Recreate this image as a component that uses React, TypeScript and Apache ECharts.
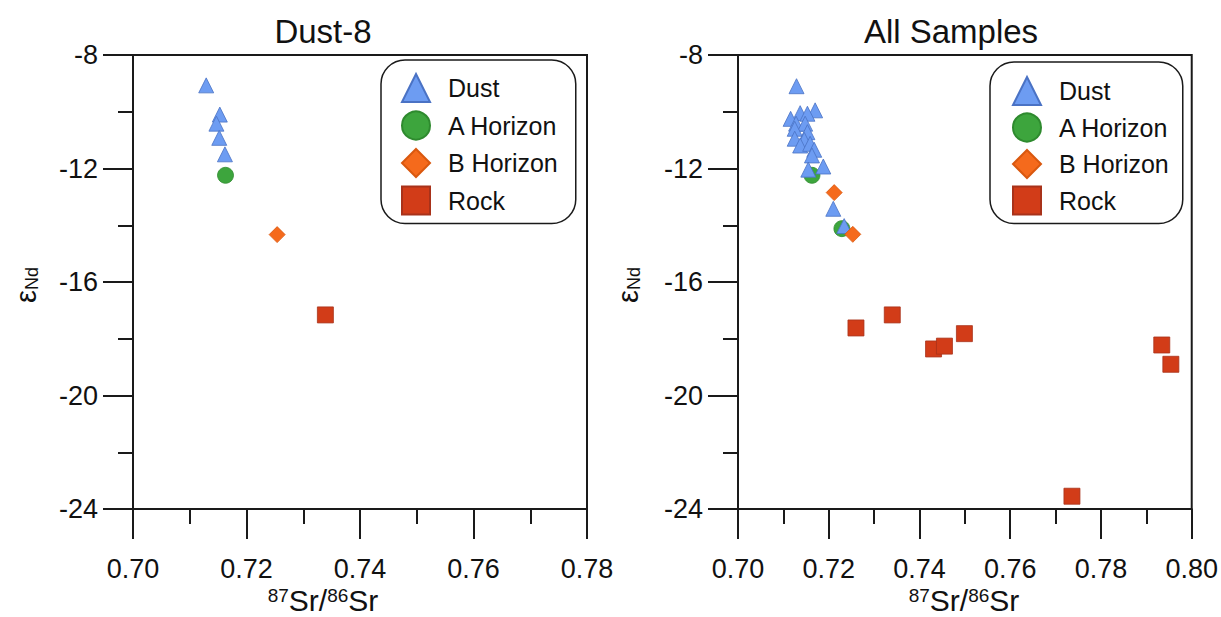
import React, { useEffect, useRef } from "react";
import * as echarts from "echarts";

// ---- Data ----
const seriesNames = ["Dust", "A Horizon", "B Horizon", "Rock"];

// Dust-8 panel
const dust8Dust: number[][] = [
  [0.7129, -9.07], [0.7153, -10.1], [0.7147, -10.42], [0.7152, -10.92], [0.7162, -11.5],
];
const dust8A: number[][] = [[0.7163, -12.24]];
const dust8B: number[][] = [[0.7254, -14.33]];
const dust8Rock: number[][] = [[0.7339, -17.16]];

// All Samples panel
const allDust: number[][] = [
  [0.7129, -9.1], [0.717, -9.95], [0.7137, -10.05], [0.7153, -10.07], [0.7116, -10.25],
  [0.7128, -10.42], [0.7148, -10.42], [0.7125, -10.6], [0.7153, -10.72], [0.7125, -10.95],
  [0.7146, -10.99], [0.7137, -11.19], [0.7159, -11.13], [0.7168, -11.34], [0.7163, -11.54],
  [0.7188, -11.93], [0.7155, -12.04], [0.721, -13.42], [0.7234, -14.03],
];
const allA: number[][] = [[0.7163, -12.24], [0.7229, -14.12]];
const allB: number[][] = [[0.7212, -12.85], [0.7253, -14.32]];
const allRock: number[][] = [
  [0.726, -17.62], [0.734, -17.16], [0.7431, -18.36], [0.7455, -18.26], [0.7499, -17.82],
  [0.7736, -23.55], [0.7934, -18.22], [0.7954, -18.9],
];

const titles = ["Dust-8", "All Samples"];
const xMin = 0.7;
const xMaxs = [0.78, 0.8];
const yMin = -24;
const yMax = -8;

const FONT = "'Liberation Sans', Arial, Helvetica, sans-serif";
const AXIS = "#1a1a1a";

const styles: Record<string, any> = {
  Dust: { symbol: "triangle", size: 15, color: "#6d9cf2", border: "#4a72c4" },
  "A Horizon": { symbol: "circle", size: 16, color: "#3da53d", border: "#2e8a2e" },
  "B Horizon": { symbol: "diamond", size: 16, color: "#f56a1c", border: "#d9580f" },
  Rock: { symbol: "rect", size: 16, color: "#d23c18", border: "#a8321a" },
};

function makeSeries(name: string, data: number[][], idx: number) {
  const s = styles[name];
  return {
    type: "scatter",
    name,
    xAxisIndex: idx,
    yAxisIndex: idx,
    data,
    symbol: s.symbol,
    symbolSize: s.size,
    itemStyle: { color: s.color, borderColor: s.border, borderWidth: 0.8, opacity: 1 },
    emphasis: { disabled: true },
  };
}

function makeX(idx: number) {
  return {
    type: "value",
    gridIndex: idx,
    min: xMin,
    max: xMaxs[idx],
    interval: 0.02,
    axisLine: { show: true, lineStyle: { color: AXIS, width: 2 } },
    axisTick: { show: true, inside: false, length: 30, lineStyle: { color: AXIS, width: 2 } },
    minorTick: { show: true, splitNumber: 2, length: 15, lineStyle: { color: AXIS, width: 2 } },
    splitLine: { show: false },
    axisLabel: {
      fontSize: 27,
      color: "#111",
      fontFamily: FONT,
      margin: 46,
      formatter: (v: number) => v.toFixed(2),
    },
  };
}

function makeY(idx: number) {
  return {
    type: "value",
    gridIndex: idx,
    min: yMin,
    max: yMax,
    interval: 4,
    axisLine: { show: true, lineStyle: { color: AXIS, width: 2 } },
    axisTick: { show: true, inside: false, length: 30, lineStyle: { color: AXIS, width: 2 } },
    minorTick: { show: true, splitNumber: 2, length: 15, lineStyle: { color: AXIS, width: 2 } },
    splitLine: { show: false },
    axisLabel: { fontSize: 27, color: "#111", fontFamily: FONT, margin: 35 },
  };
}

function makeLegend(left: number, top: number, pad: number[], gap: number) {
  return {
    left,
    top,
    orient: "vertical",
    padding: pad,
    itemGap: gap,
    itemWidth: 28,
    itemHeight: 28,
    borderColor: AXIS,
    borderWidth: 1.5,
    borderRadius: 24,
    backgroundColor: "#fff",
    selectedMode: false,
    textStyle: { fontSize: 25, lineHeight: 28, color: "#111", fontFamily: FONT, padding: [0, 0, 0, 13] },
    data: seriesNames.map((n) => ({ name: n, icon: styles[n].symbol })),
  };
}

export default function App() {
  const ref = useRef<HTMLDivElement>(null);
  useEffect(() => {
    if (!ref.current) return;
    const chart = echarts.init(ref.current, undefined, { renderer: "svg" });
    const option: any = {
      animation: false,
      backgroundColor: "#fff",
      grid: [
        { left: 133, top: 55, width: 454, height: 454, show: true, borderColor: AXIS, borderWidth: 2, backgroundColor: "transparent" },
        { left: 738, top: 55, width: 454, height: 454, show: true, borderColor: AXIS, borderWidth: 2, backgroundColor: "transparent" },
      ],
      xAxis: [makeX(0), makeX(1)],
      yAxis: [makeY(0), makeY(1)],
      legend: [makeLegend(381, 60, [13, 18, 8, 20], 7.5), makeLegend(990, 62, [14, 14, 8, 22], 6.5)],
      series: [
        makeSeries("A Horizon", dust8A, 0),
        makeSeries("Dust", dust8Dust, 0),
        makeSeries("B Horizon", dust8B, 0),
        makeSeries("Rock", dust8Rock, 0),
        makeSeries("A Horizon", allA, 1),
        makeSeries("Dust", allDust, 1),
        makeSeries("B Horizon", allB, 1),
        makeSeries("Rock", allRock, 1),
      ],
      graphic: [
        { type: "text", x: 323, y: 31, style: { text: titles[0], fontSize: 33, fontFamily: FONT, fill: "#111", align: "center", verticalAlign: "middle" } },
        { type: "text", x: 951, y: 31, style: { text: titles[1], fontSize: 33, fontFamily: FONT, fill: "#111", align: "center", verticalAlign: "middle" } },
        ...[323, 964].map((cx) => ({
          type: "text",
          x: cx,
          y: 600,
          style: {
            text: "{sup|87}{main|Sr/}{sup|86}{main|Sr}",
            align: "center",
            verticalAlign: "middle",
            fill: "#111",
            fontFamily: FONT,
            rich: {
              sup: { fontSize: 19, fontFamily: FONT, fill: "#111", verticalAlign: "top", lineHeight: 19 },
              main: { fontSize: 30, fontFamily: FONT, fill: "#111", lineHeight: 28 },
            },
          },
        })),
        ...[26, 628].map((cx) => ({
          type: "text",
          x: cx,
          y: 285,
          rotation: Math.PI / 2,
          style: {
            text: "{main|ε}{sub|Nd}",
            align: "center",
            verticalAlign: "middle",
            fill: "#111",
            fontFamily: FONT,
            rich: {
              main: { fontSize: 29, fontFamily: FONT, fill: "#111", lineHeight: 30 },
              sub: { fontSize: 18, fontFamily: FONT, fill: "#111", verticalAlign: "bottom", lineHeight: 18 },
            },
          },
        })),
      ],
    };
    chart.setOption(option);
    return () => chart.dispose();
  }, []);
  return (
    <div
      ref={ref}
      style={{ position: "fixed", left: 0, top: 0, width: 1221, height: 617, background: "#fff" }}
    />
  );
}
